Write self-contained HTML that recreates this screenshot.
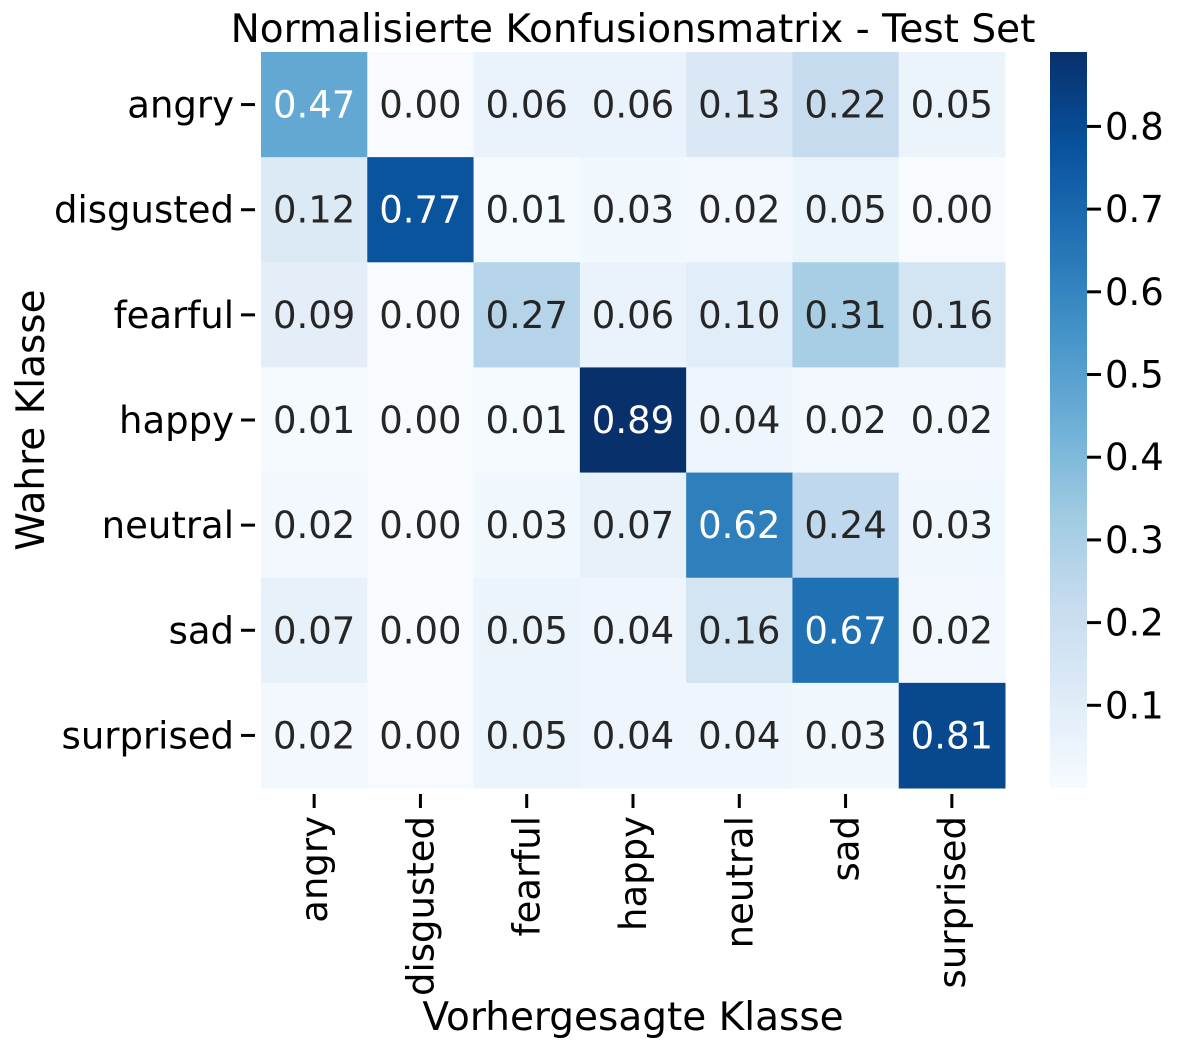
<!DOCTYPE html>
<html><head><meta charset="utf-8"><style>
body{margin:0;background:#fff;}
svg{display:block;font-family:"DejaVu Sans","Liberation Sans",sans-serif;}
</style></head><body>
<svg id="chart" width="1182" height="1050" viewBox="0 0 1182 1050">
<defs><linearGradient id="cbg" x1="0" y1="1" x2="0" y2="0"></linearGradient></defs>
<text x="633" y="42" font-size="39" text-anchor="middle" fill="#000">Normalisierte Konfusionsmatrix - Test Set</text>
<text transform="translate(44,420) rotate(-90)" font-size="39" text-anchor="middle" fill="#000">Wahre Klasse</text>
<text x="633" y="1030" font-size="39" text-anchor="middle" fill="#000">Vorhergesagte Klasse</text>
<g id="cells"></g><g id="axes"></g><g id="cbar"></g>
</svg>
<script>
const classes=["angry","disgusted","fearful","happy","neutral","sad","surprised"];
const row0=[0.47,0.00,0.06,0.06,0.13,0.22,0.05];
const row1=[0.12,0.77,0.01,0.03,0.02,0.05,0.00];
const row2=[0.09,0.00,0.27,0.06,0.10,0.31,0.16];
const row3=[0.01,0.00,0.01,0.89,0.04,0.02,0.02];
const row4=[0.02,0.00,0.03,0.07,0.62,0.24,0.03];
const row5=[0.07,0.00,0.05,0.04,0.16,0.67,0.02];
const row6=[0.02,0.00,0.05,0.04,0.04,0.03,0.81];
const cbTicks=[0.1,0.2,0.3,0.4,0.5,0.6,0.7,0.8];
const matrix=[row0,row1,row2,row3,row4,row5,row6];
const NS="http://www.w3.org/2000/svg";
const L=261,R=1005,T=52,B=788,n=classes.length,cw=(R-L)/n,ch=(B-T)/n;
const vmin=0,vmax=Math.max(...matrix.flat());
const stops=[[247,251,255],[222,235,247],[198,219,239],[158,202,225],[107,174,214],[66,146,198],[33,113,181],[8,81,156],[8,48,107]];
function blues(t){t=Math.max(0,Math.min(1,t));const p=t*(stops.length-1),i=Math.min(Math.floor(p),stops.length-2),f=p-i;return stops[i].map((v,k)=>Math.round(v+(stops[i+1][k]-v)*f));}
function rgb(c){return `rgb(${c[0]},${c[1]},${c[2]})`;}
function lin(v){v/=255;return v<=0.03928?v/12.92:Math.pow((v+0.055)/1.055,2.4);}
function mk(tag,attrs,parent){const e=document.createElementNS(NS,tag);for(const k in attrs)e.setAttribute(k,attrs[k]);parent.appendChild(e);return e;}
const cells=document.getElementById('cells'),axes=document.getElementById('axes'),cb=document.getElementById('cbar');
matrix.forEach((row,i)=>row.forEach((v,j)=>{
 const c=blues((v-vmin)/(vmax-vmin));
 const r=mk('rect',{x:L+j*cw,y:T+i*ch,width:cw+0.5,height:ch+0.5,fill:rgb(c)},cells);
 
 
 const lum=0.2126*lin(c[0])+0.7152*lin(c[1])+0.0722*lin(c[2]);
 const t=mk('text',{x:L+(j+0.5)*cw,y:T+(i+0.5)*ch+13,'font-size':37,'text-anchor':'middle',fill:lum<0.408?'#fff':'#262626'},cells);
 t.textContent=v.toFixed(2);
 
 
}));
classes.forEach((c,i)=>{
 const y=T+(i+0.5)*ch;
 const tk=mk('line',{x1:L-20,x2:L-6,y1:y,y2:y,stroke:'#000','stroke-width':3},axes);
 
 
 const t=mk('text',{x:L-27,y:y+13,'font-size':37,'text-anchor':'end',fill:'#000'},axes);
 t.textContent=c;
 
 
 const x=L+(i+0.5)*cw;
 const tx=mk('line',{x1:x,x2:x,y1:B+6,y2:B+20,stroke:'#000','stroke-width':3},axes);
 
 
 const lx=mk('text',{transform:`translate(${x+13},${B+28}) rotate(-90)`,'font-size':37,'text-anchor':'end',fill:'#000'},axes);
 lx.textContent=c;
 
 
});
const CX=1050,CW=37;
const g=document.getElementById('cbg');
stops.forEach((s,k)=>mk('stop',{offset:k/(stops.length-1),'stop-color':rgb(s)},g));
const cr=mk('rect',{x:CX,y:T,width:CW,height:B-T,fill:'url(#cbg)'},cb);


cbTicks.forEach(v=>{
 const y=B-(v-vmin)/(vmax-vmin)*(B-T);
 const l=mk('line',{x1:CX+CW,x2:CX+CW+14,y1:y,y2:y,stroke:'#000','stroke-width':3},cb);
 
 
 const t=mk('text',{x:CX+CW+18,y:y+13,'font-size':37,fill:'#000'},cb);
 t.textContent=v.toFixed(1);
 
 
});
</script>
</body></html>
